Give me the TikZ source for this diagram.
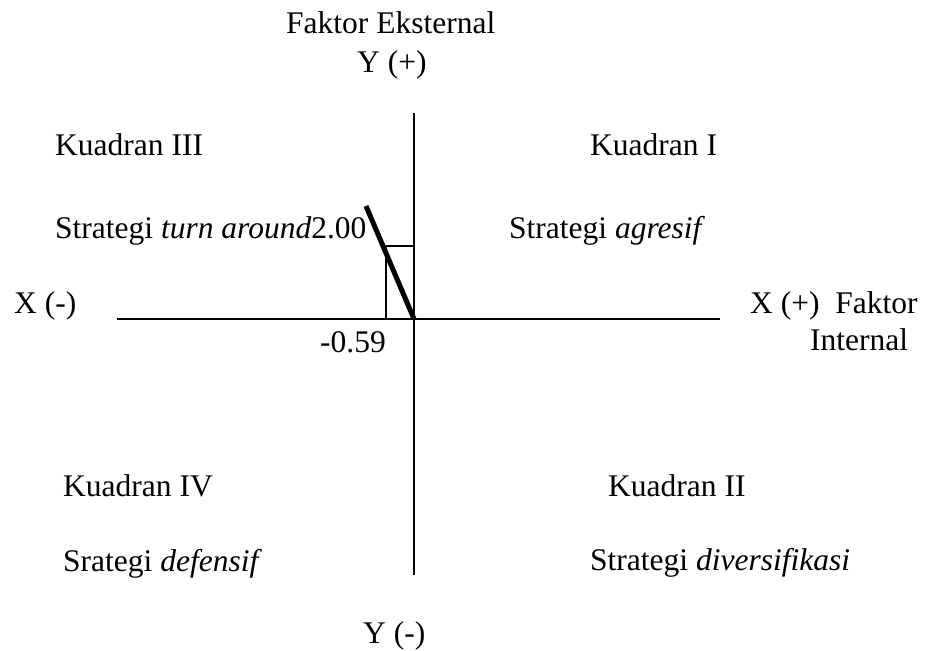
\documentclass[tikz,border=0pt]{standalone}
\usepackage{fontspec}
\setmainfont{Liberation Serif}
\begin{document}
\begin{tikzpicture}[x=1pt,y=-1pt,
  lbl/.style={anchor=base west,inner sep=0pt,font=\fontsize{31.5}{36}\selectfont},
  axis/.style={line width=1.6pt},
  heavy/.style={line width=5pt},
  thin/.style={line width=1.4pt}]
\useasboundingbox (0,0) rectangle (927,651);
% axes
\coordinate (O) at (414,319);
\coordinate (xl) at (117,319);
\coordinate (xr) at (720,319);
\coordinate (yt) at (414,113);
\coordinate (yb) at (414,575);
\draw[axis] (xl) -- (xr);
\draw[axis] (yt) -- (yb);
% box and line
\coordinate (bx) at (386,246);
\coordinate (tip) at (366,206);
\draw[thin] (bx |- O) -- (bx) -- (bx -| O);
\draw[heavy] (O) -- (tip);
% labels
\node[lbl] (fe) at (286,33) {Faktor Eksternal};
\node[lbl] (yp) at (357,72) {Y (+)};
\node[lbl] (k3) at (55,155) {Kuadran III};
\node[lbl] (k1) at (590,155) {Kuadran I};
\node[lbl] (s3) at (55,238) {Strategi \textit{turn around}2.00};
\node[lbl] (s1) at (509,238) {Strategi \textit{agresif}};
\node[lbl] (xm) at (14,313) {X (-)};
\node[lbl] (xp) at (750,313) {X (+)\ \ Faktor};
\node[lbl] (int) at (810,350) {Internal};
\node[lbl] (v) at (320,352) {-0.59};
\node[lbl] (k4) at (63,496) {Kuadran IV};
\node[lbl] (k2) at (608,496) {Kuadran II};
\node[lbl] (s4) at (63,571) {Srategi \textit{defensif}};
\node[lbl] (s2) at (590,570) {Strategi \textit{diversifikasi}};
\node[lbl] (ym) at (363,643) {Y (-)};
\end{tikzpicture}
\end{document}
